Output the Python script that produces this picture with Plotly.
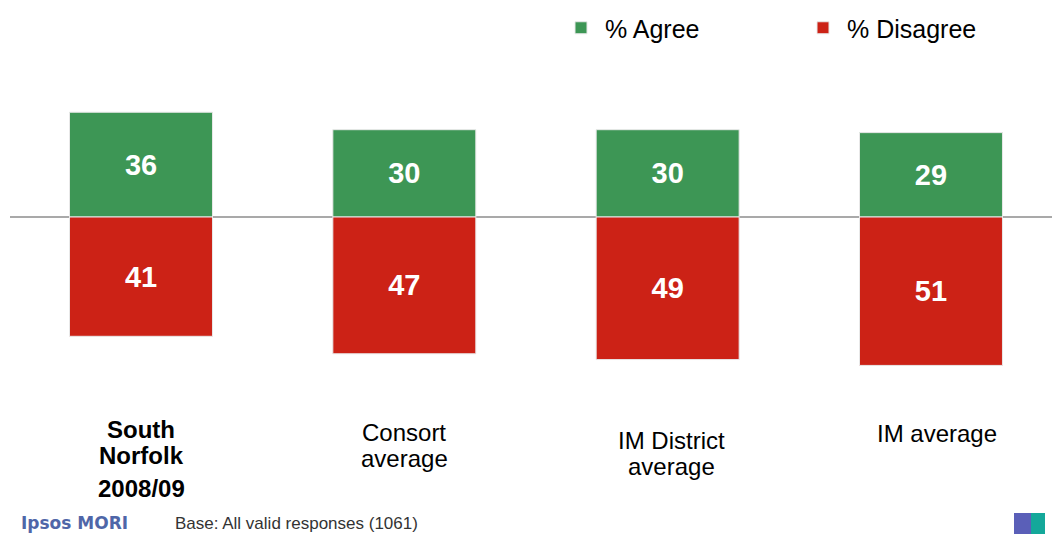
import plotly.graph_objects as go

categories = ["South Norfolk 2008/09", "Consort average", "IM District average", "IM average"]
label_lines = [["South", "Norfolk", "2008/09"], ["Consort", "average"], ["IM District", "average"], ["IM average"]]
agree = [36, 30, 30, 29]
disagree = [41, 47, 49, 51]
series_names = ["% Agree", "% Disagree"]
base_note = "Base: All valid responses (1061)"
brand = "Ipsos MORI"

W, H = 1052, 534
TOP, BOT = 60, 400          # plot area in px
ZERO_PX = 217
PPU = 2.91                  # px per unit
y_hi = (ZERO_PX - TOP) / PPU
y_lo = -(BOT - ZERO_PX) / PPU
x0c, dx = 141, 263.33
x_lo = -x0c / dx
x_hi = (W - x0c) / dx

FONT = "Liberation Sans, Arial, sans-serif"
GREEN = "#3d9655"
RED = "#cc2216"

xs = list(range(len(categories)))

fig = go.Figure()
fig.add_bar(x=xs, y=agree, name=series_names[0], marker_color=GREEN,
            marker_line=dict(color="#e8e8e8", width=1),
            text=[str(v) for v in agree], textposition="inside", insidetextanchor="middle",
            textfont=dict(color="white", size=29, family=FONT, weight="bold"),
            width=0.543, hoverinfo="skip")
fig.add_bar(x=xs, y=[-v for v in disagree], name=series_names[1], marker_color=RED,
            marker_line=dict(color="#e8e8e8", width=1),
            text=[str(v) for v in disagree], textposition="inside", insidetextanchor="middle",
            textfont=dict(color="white", size=29, family=FONT, weight="bold"),
            width=0.543, hoverinfo="skip")

def py2paper(py):
    return (BOT - py) / (BOT - TOP)

# zero line
fig.add_shape(type="line", xref="paper", yref="y", x0=10 / W, x1=1, y0=0, y1=0,
              line=dict(color="#8c8c8c", width=1.5), layer="below")

# category labels (line-by-line to match spacing)
line_y = [[430, 455, 488], [432, 458], [440, 466], [433]]
xshift = [0, 0, 4, 6]
for i, lines in enumerate(label_lines):
    for j, t in enumerate(lines):
        fig.add_annotation(x=xs[i], xref="x", y=py2paper(line_y[i][j]), yref="paper",
                           text=t, showarrow=False, xanchor="center", yanchor="middle",
                           xshift=xshift[i],
                           font=dict(size=24, family=FONT, color="black",
                                     weight="bold" if i == 0 else "normal"))

# footer
fig.add_annotation(x=19 / W, y=py2paper(523), xref="paper", yref="paper", text=brand,
                   showarrow=False, xanchor="left", yanchor="middle",
                   font=dict(size=17, family="DejaVu Sans, sans-serif", color="#4f66a8", weight="bold"))
fig.add_annotation(x=173 / W, y=py2paper(523), xref="paper", yref="paper", text=base_note,
                   showarrow=False, xanchor="left", yanchor="middle",
                   font=dict(size=17, family=FONT, color="#333333"))

# small logo at bottom right
fig.add_shape(type="rect", xref="paper", yref="paper", x0=1014 / W, x1=1031 / W,
              y0=py2paper(534), y1=py2paper(513), fillcolor="#5a5fb8", line_width=0)
fig.add_shape(type="rect", xref="paper", yref="paper", x0=1031 / W, x1=1045 / W,
              y0=py2paper(534), y1=py2paper(513), fillcolor="#14a89a", line_width=0)

fig.update_layout(
    width=W, height=H,
    margin=dict(l=0, r=0, t=TOP, b=H - BOT, autoexpand=False),
    paper_bgcolor="white", plot_bgcolor="white",
    barmode="relative",
    showlegend=True,
    legend=dict(orientation="h", x=557 / W, xanchor="left", y=py2paper(28), yanchor="middle",
                font=dict(size=25, family=FONT, color="black"),
                itemwidth=38,
                entrywidth=189, entrywidthmode="pixels", traceorder="normal",
                bgcolor="rgba(0,0,0,0)"),
    xaxis=dict(range=[x_lo, x_hi], visible=False, fixedrange=True),
    yaxis=dict(range=[y_lo, y_hi], visible=False, zeroline=False, fixedrange=True),
    uniformtext=dict(mode=False),
)

fig.write_html("out.html", config={"displayModeBar": False},
               post_script="document.body.style.margin='0';document.body.style.overflow='hidden';")
